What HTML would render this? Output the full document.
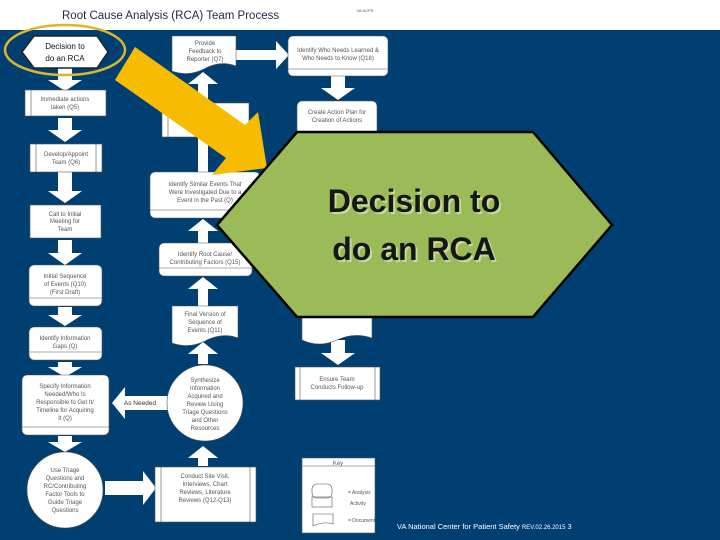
<!DOCTYPE html>
<html><head><meta charset="utf-8"><style>
html,body{margin:0;padding:0;background:#fff;}
svg{display:block;}
.t{font-family:"Liberation Sans",sans-serif;font-size:6px;fill:#555;text-anchor:middle;}
</style></head><body>
<svg width="720" height="540" viewBox="0 0 720 540" xmlns="http://www.w3.org/2000/svg">
<rect x="0" y="0" width="720" height="540" fill="#fff"/>
<text x="62" y="19" font-family="Liberation Sans,sans-serif" font-size="11.5" fill="#1f2a44">Root Cause Analysis (RCA) Team Process</text>
<text x="365" y="12" font-family="Liberation Sans,sans-serif" font-size="4" fill="#555" text-anchor="middle">VA NCPS</text>
<rect x="0" y="30" width="720" height="510" fill="#003f72"/>

<g fill="#fff">
<path d="M58,68h14v12h10l-17,11l-17,-11h10z"/>
<path d="M58,118h14v12h10l-17,12l-17,-12h10z"/>
<path d="M58,172h14v19h10l-17,12l-17,-12h10z"/>
<path d="M58,240h14v13h10l-17,12l-17,-12h10z"/>
<path d="M58,307h14v8h10l-17,11l-17,-11h10z"/>
<path d="M58,362h14v5h10l-17,10l-17,-10h10z"/>
<path d="M58,436h14v6h10l-17,10l-17,-10h10z"/>
<path d="M105,481h38v-10l13,17l-13,17v-10h-38z"/>
<path d="M198,466v-8h-10l15,-12l15,12h-10v8z"/>
<path d="M198,364v-10h-10l15,-12l15,12h-10v10z"/>
<path d="M198,306v-17h-10l15,-12l15,12h-10v17z"/>
<path d="M198,243v-12h-10l15,-12l15,12h-10v12z"/>
<path d="M198,172v-88h-10l15,-12l15,12h-10v88z"/>
<path d="M168,396h-43v-9l-13,16l13,16v-9h43z"/>
<path d="M236,50h40v-9l13,14l-13,14v-9h-40z"/>
<path d="M331,76h14v12h10l-17,12l-17,-12h10z"/>
<path d="M331,340h14v13h10l-17,12l-17,-12h10z"/>
</g>
<text x="140" y="405" font-family="Liberation Sans,sans-serif" font-size="6.5" fill="#333" text-anchor="middle">As Needed</text>

<g fill="#fff" stroke="#555" stroke-width="0.6">
<rect x="25" y="90" width="81" height="26"/>
<rect x="30" y="144" width="72" height="28"/>
<rect x="30" y="205" width="71" height="33"/>
<rect x="29" y="265" width="73" height="41" rx="5"/>
<rect x="29" y="327" width="73" height="33" rx="5"/>
<rect x="22" y="375" width="87" height="60" rx="5"/>
<circle cx="65" cy="490" r="38"/>
<rect x="155" y="467" width="101" height="55"/>
<circle cx="205" cy="403" r="38"/>
<path d="M172,306h66v32q-16,-6 -33,3q-16,8 -33,2z"/>
<rect x="159" y="243" width="93" height="33" rx="5"/>
<rect x="150" y="172" width="110" height="46" rx="5"/>
<rect x="162" y="103" width="87" height="34"/>
<path d="M172,36h64v30q-16,-6 -32,3q-16,8 -32,2z"/>
<rect x="288" y="36" width="100" height="40" rx="5"/>
<rect x="297" y="101" width="80" height="40" rx="5"/>
<path d="M302,300h70v38q-18,-6 -35,2q-18,8 -35,0z"/>
<rect x="295" y="367" width="85" height="33"/>
<rect x="302" y="458" width="73" height="75"/>
</g>
<g stroke="#555" stroke-width="0.6" fill="none">
<line x1="31" y1="90" x2="31" y2="116"/>
<line x1="36" y1="144" x2="36" y2="172"/><line x1="96" y1="144" x2="96" y2="172"/>
<line x1="29" y1="298" x2="102" y2="298"/>
<line x1="29" y1="352" x2="102" y2="352"/>
<line x1="22" y1="427" x2="109" y2="427"/>
<line x1="161" y1="467" x2="161" y2="522"/><line x1="250" y1="467" x2="250" y2="522"/>
<line x1="159" y1="268" x2="252" y2="268"/>
<line x1="150" y1="210" x2="260" y2="210"/>
<line x1="168" y1="103" x2="168" y2="137"/>
<line x1="288" y1="69" x2="388" y2="69"/>
<line x1="300" y1="367" x2="300" y2="400"/><line x1="375" y1="367" x2="375" y2="400"/>
<line x1="302" y1="466" x2="375" y2="466"/>
<rect x="312" y="484" width="20" height="14" rx="5"/>
<rect x="312" y="497" width="20" height="10"/>
<path d="M313,514h20v10q-10,-3 -20,2z"/>
</g>
<g class="t">
<text x="65" y="101">Immediate actions</text><text x="65" y="109">taken (Q5)</text>
<text x="66" y="156">Develop/Appoint</text><text x="66" y="164">Team (Q6)</text>
<text x="65" y="216">Call to Initial</text><text x="65" y="223">Meeting for</text><text x="65" y="231">Team</text>
<text x="65" y="278">Initial Sequence</text><text x="65" y="286">of Events (Q10)</text><text x="65" y="294">(First Draft)</text>
<text x="65" y="340">Identify Information</text><text x="65" y="348">Gaps (Q)</text>
<text x="65" y="388">Specify Information</text><text x="65" y="396">Needed/Who Is</text><text x="65" y="404">Responsible to Get It/</text><text x="65" y="412">Timeline for Acquiring</text><text x="65" y="420">It (Q)</text>
<text x="65" y="472">Use Triage</text><text x="65" y="480">Questions and</text><text x="65" y="488">RC/Contributing</text><text x="65" y="496">Factor Tools to</text><text x="65" y="504">Guide Triage</text><text x="65" y="512">Questions</text>
<text x="205" y="478">Conduct Site Visit,</text><text x="205" y="486">Interviews, Chart</text><text x="205" y="494">Reviews, Literature</text><text x="205" y="502">Reviews (Q12-Q13)</text>
<text x="205" y="382">Synthesize</text><text x="205" y="390">Information</text><text x="205" y="398">Acquired and</text><text x="205" y="406">Review Using</text><text x="205" y="414">Triage Questions</text><text x="205" y="422">and Other</text><text x="205" y="430">Resources</text>
<text x="205" y="316">Final Version of</text><text x="205" y="324">Sequence of</text><text x="205" y="332">Events (Q11)</text>
<text x="205" y="256">Identify Root Cause/</text><text x="205" y="264">Contributing Factors (Q15)</text>
<text x="205" y="186">Identify Similar Events That</text><text x="205" y="194">Were Investigated Due to a</text><text x="205" y="202">Event in the Past (Q)</text>
<text x="205" y="45">Provide</text><text x="205" y="53">Feedback to</text><text x="205" y="61">Reporter (Q7)</text>
<text x="338" y="52">Identify Who Needs Learned &amp;</text><text x="338" y="60">Who Needs to Know (Q18)</text>
<text x="337" y="114">Create Action Plan for</text><text x="337" y="122">Creation of Actions</text>
<text x="337" y="381">Ensure Team</text><text x="337" y="389">Conducts Follow-up</text>
<text x="338" y="465">Key</text>
<text x="348" y="494" text-anchor="start" font-size="5">= Analysis</text>
<text x="350" y="505" text-anchor="start" font-size="5">Activity</text>
<text x="348" y="522" text-anchor="start" font-size="5">= Document</text>
</g>

<polygon points="34,36 97,36 108,52 97,68 34,68 22,52" fill="#fff" stroke="#222" stroke-width="1.5"/>
<text x="65" y="49" font-family="Liberation Sans,sans-serif" font-size="8" fill="#111" text-anchor="middle">Decision to</text>
<text x="65" y="61" font-family="Liberation Sans,sans-serif" font-size="8" fill="#111" text-anchor="middle">do an RCA</text>
<ellipse cx="65" cy="50" rx="60" ry="25" fill="none" stroke="#d9b62a" stroke-width="2.5"/>

<polygon points="135,47 245,125 258,112 267,168 212,175 226,158 115,80" fill="#f7bc00"/>

<polygon points="297,132 533,132 612,225 533,317 297,317 217,225" fill="#9bbb59" stroke="#000" stroke-width="2.5"/>
<g font-family="Liberation Sans,sans-serif" font-size="32" font-weight="bold" text-anchor="middle">
<text x="416" y="214" fill="#c8d8a0">Decision to</text>
<text x="416" y="262" fill="#c8d8a0">do an RCA</text>
<text x="414" y="212" fill="#161616">Decision to</text>
<text x="414" y="260" fill="#161616">do an RCA</text>
</g>

<text x="397" y="529" font-family="Liberation Sans,sans-serif" font-size="7.5" fill="#fff">VA National Center for Patient Safety <tspan font-size="6">REV.02.26.2015</tspan>  3</text>
</svg>
</body></html>
